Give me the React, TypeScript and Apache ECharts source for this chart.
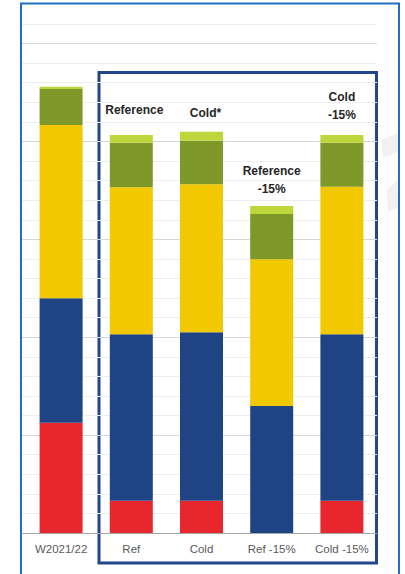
import React, { useEffect, useRef } from "react";
import * as echarts from "echarts";

const categories = ["W2021/22", "Ref", "Cold", "Ref -15%", "Cold -15%"];
const annotations = ["", "Reference", "Cold*", "Reference\n-15%", "Cold\n-15%"];
const redValues = [5.63, 1.65, 1.65, 0, 1.65];
const blueValues = [6.36, 8.5, 8.6, 6.49, 8.5];
const yellowValues = [8.85, 7.51, 7.57, 7.49, 7.54];
const darkGreenValues = [1.84, 2.27, 2.22, 2.31, 2.24];
const lightGreenValues = [0.12, 0.4, 0.46, 0.41, 0.4];
const yMax = 26;

export default function App() {
  const ref = useRef<HTMLDivElement>(null);
  useEffect(() => {
    if (!ref.current) return;
    const chart = echarts.init(ref.current, null, { renderer: "svg" });
    const labelDist = [0, 16, 10, 8, 11];
    const labelDx = [0, 3, 4, 0, 0];
    const font = "Liberation Sans, Arial, sans-serif";
    const mk = (name: string, data: number[], color: string, withLabels = false) => ({
      name,
      type: "bar",
      stack: "total",
      barWidth: 43,
      xAxisIndex: 1,
      yAxisIndex: 1,
      itemStyle: { color },
      emphasis: { disabled: true },
      data: data.map((v, i) =>
        withLabels && annotations[i]
          ? {
              value: v,
              label: {
                show: true,
                position: "top",
                distance: labelDist[i],
                offset: [labelDx[i], 0],
                formatter: annotations[i],
                fontFamily: font,
                fontWeight: "bold",
                fontSize: 12,
                lineHeight: 18,
                color: "#262626",
                align: "center",
              },
            }
          : v
      ),
    });
    chart.setOption({
      animation: false,
      grid: [
        { left: 22, right: 28, top: 24, bottom: 41 },
        { left: 26, right: 28, top: 24, bottom: 41 },
      ],
      xAxis: [
        {
          type: "value",
          gridIndex: 0,
          min: 0,
          max: 1,
          axisLine: { show: true, onZero: false, lineStyle: { color: "#A6A6A6", width: 1 } },
          axisTick: { show: false },
          axisLabel: { show: false },
          splitLine: { show: false },
        },
        {
          type: "category",
          gridIndex: 1,
          data: categories,
          axisLine: { show: false },
          axisTick: { show: false },
          axisLabel: {
            color: "#595959",
            fontSize: 11.5,
            fontFamily: font,
            margin: 10,
          },
        },
      ],
      yAxis: [
        {
          type: "value",
          gridIndex: 0,
          min: 0,
          max: yMax,
          interval: 1,
          axisLabel: { show: false },
          axisLine: { show: false },
          axisTick: { show: false },
          splitLine: {
            lineStyle: {
              color: ["#D6D6D6", "#EDEDED", "#EDEDED", "#EDEDED", "#EDEDED"],
              width: 1,
            },
          },
        },
        {
          type: "value",
          gridIndex: 1,
          min: 0,
          max: yMax,
          interval: 1,
          axisLabel: { show: false },
          axisLine: { show: false },
          axisTick: { show: false },
          splitLine: { show: false },
        },
      ],
      series: [
        mk("red", redValues, "#E8262D"),
        mk("blue", blueValues, "#1F4484"),
        mk("yellow", yellowValues, "#F2C900"),
        mk("darkgreen", darkGreenValues, "#7E982A"),
        mk("lightgreen", lightGreenValues, "#BDD63B", true),
      ],
      graphic: [
        {
          type: "polygon",
          shape: { points: [[381, 140], [398, 133], [398, 152], [383, 158]] },
          style: { fill: "#F1F1F1" },
          silent: true,
        },
        {
          type: "polygon",
          shape: { points: [[387, 190], [398, 180], [398, 208], [388, 212]] },
          style: { fill: "#F1F1F1" },
          silent: true,
        },
        {
          type: "rect",
          shape: { x: 21, y: 3.5, width: 378, height: 620 },
          style: { fill: "none", stroke: "#1F70C1", lineWidth: 2 },
          silent: true,
        },
        {
          type: "rect",
          shape: { x: 99, y: 72.5, width: 277.5, height: 490.5 },
          style: { fill: "none", stroke: "#23468A", lineWidth: 3 },
          silent: true,
        },
      ],
    });
    return () => chart.dispose();
  }, []);
  return (
    <div
      ref={ref}
      style={{ position: "fixed", left: 0, top: 0, width: 405, height: 574, background: "#fff" }}
    />
  );
}
